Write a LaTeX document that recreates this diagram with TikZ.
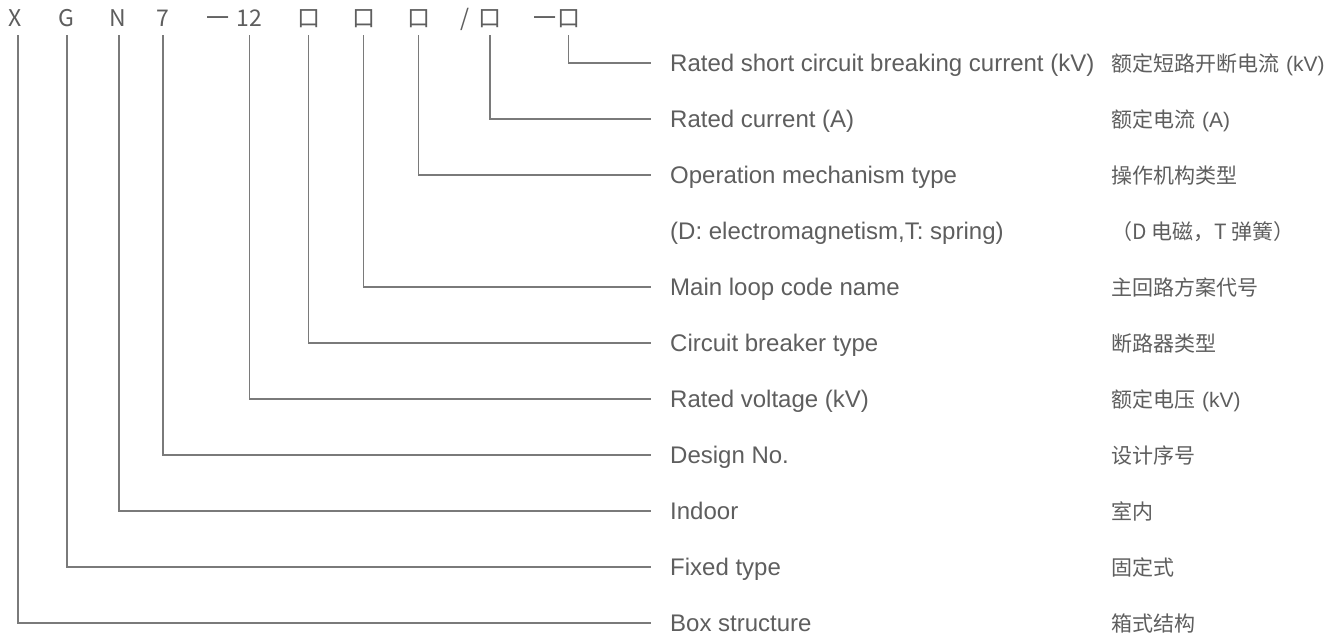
\documentclass[tikz,border=0pt]{standalone}
\usepackage{fontspec}
\setmainfont{Liberation Sans}
\newfontfamily\cjk{Noto Sans CJK SC}
\definecolor{txt}{HTML}{5E5E5E}
\definecolor{ln}{HTML}{7A7A7A}
\newcommand{\lat}[1]{{\rmfamily\fontsize{21}{21}\selectfont\hspace{7pt}#1}}
\begin{document}
\begin{tikzpicture}[x=1pt,y=-1pt,
  hd/.style={inner sep=0pt, anchor=base, font=\cjk\fontsize{23}{23}\selectfont, text=txt},
  en/.style={inner sep=0pt, anchor=base west, font=\fontsize{24}{24}\selectfont, text=txt},
  zh/.style={inner sep=0pt, anchor=base west, font=\cjk\fontsize{21}{21}\selectfont, text=txt},
  conn/.style={draw=ln, line width=1.2pt}]
\useasboundingbox[fill=white] (0,0) rectangle (1341,635);
% header
\node[hd] (hX) at (15.5,26) {X};
\node[hd] (hG) at (66,26) {G};
\node[hd] (hN) at (117.5,26) {N};
\node[hd] (h7) at (163,26) {7};
\node[hd] (hD1) at (218,26) {一};
\node[hd] (h12) at (249.5,26) {12};
\node[hd] (hB1) at (308.5,26) {口};
\node[hd] (hB2) at (363.5,26) {口};
\node[hd] (hB3) at (418.5,26) {口};
\node[hd] (hS) at (465,26) {/};
\node[hd] (hB4) at (490,26) {口};
\node[hd] (hD2) at (545,26) {一};
\node[hd] (hB5) at (568.5,26) {口};
\coordinate (top) at (0,35);
% rows
\node[en] (e0) at (670,71.5) {Rated short circuit breaking current (kV)};
\node[zh] (z0) at (1111,71.5) {额定短路开断电流\lat{(kV)}};
\coordinate (c0) at (651,63);
\node[en] (e1) at (670,127.5) {Rated current (A)};
\node[zh] (z1) at (1111,127.5) {额定电流\lat{(A)}};
\coordinate (c1) at (651,119);
\node[en] (e2) at (670,183.5) {Operation mechanism type};
\node[zh] (z2) at (1111,183.5) {操作机构类型};
\coordinate (c2) at (651,175);
\node[en] (e3) at (670,239.5) {(D: electromagnetism,T: spring)};
\node[zh] (z3) at (1111,239.5) {（D 电磁，T 弹簧）};
\node[en] (e4) at (670,295.5) {Main loop code name};
\node[zh] (z4) at (1111,295.5) {主回路方案代号};
\coordinate (c4) at (651,287);
\node[en] (e5) at (670,351.5) {Circuit breaker type};
\node[zh] (z5) at (1111,351.5) {断路器类型};
\coordinate (c5) at (651,343);
\node[en] (e6) at (670,407.5) {Rated voltage (kV)};
\node[zh] (z6) at (1111,407.5) {额定电压\lat{(kV)}};
\coordinate (c6) at (651,399);
\node[en] (e7) at (670,463.5) {Design No.};
\node[zh] (z7) at (1111,463.5) {设计序号};
\coordinate (c7) at (651,455);
\node[en] (e8) at (670,519.5) {Indoor};
\node[zh] (z8) at (1111,519.5) {室内};
\coordinate (c8) at (651,511);
\node[en] (e9) at (670,575.5) {Fixed type};
\node[zh] (z9) at (1111,575.5) {固定式};
\coordinate (c9) at (651,567);
\node[en] (e10) at (670,631.5) {Box structure};
\node[zh] (z10) at (1111,631.5) {箱式结构};
\coordinate (c10) at (651,623);
% connectors
\draw[conn] (hB5 |- top) |- (c0);
\draw[conn] (hB4 |- top) |- (c1);
\draw[conn] (hB3 |- top) |- (c2);
\draw[conn] (hB2 |- top) |- (c4);
\draw[conn] (hB1 |- top) |- (c5);
\draw[conn] (h12 |- top) |- (c6);
\draw[conn] (h7 |- top) |- (c7);
\draw[conn] ([xshift=1.5pt]hN.south |- top) |- (c8);
\draw[conn] ([xshift=1pt]hG.south |- top) |- (c9);
\draw[conn] ([xshift=2.5pt]hX.south |- top) |- (c10);
\end{tikzpicture}
\end{document}
